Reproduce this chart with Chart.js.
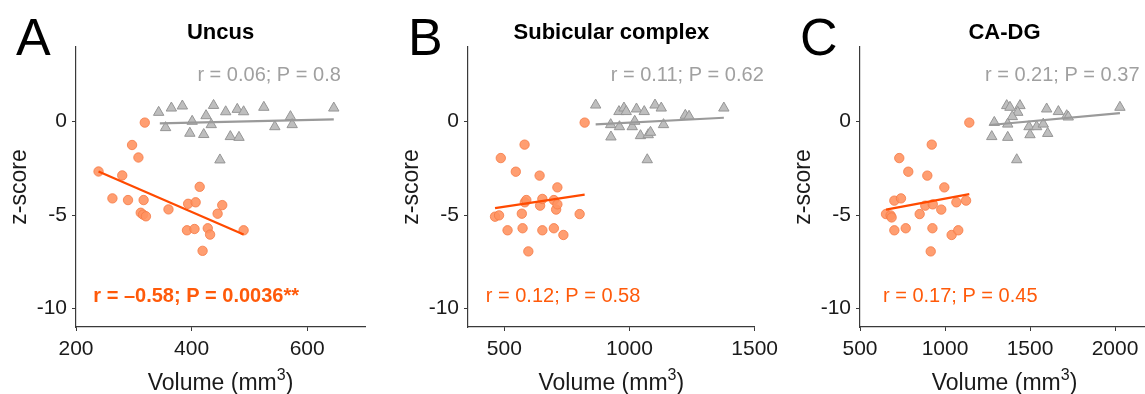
<!DOCTYPE html>
<html>
<head>
<meta charset="utf-8">
<script src="https://cdn.jsdelivr.net/npm/chart.js@4/dist/chart.umd.min.js"></script>
<style>
  html, body { margin: 0; padding: 0; background: #fff; overflow: hidden; }
  body { width: 1145px; height: 394px; position: relative; }
  canvas { position: absolute; top: 0; }
</style>
</head>
<body>
<canvas id="panelA" width="392" height="394" style="left:0px"></canvas>
<canvas id="panelB" width="392" height="394" style="left:392px"></canvas>
<canvas id="panelC" width="392" height="394" style="left:784px"></canvas>
<script>
// --- Uncus ---
const uncusCaseVol = [239, 263, 280, 290, 297, 308, 312, 317, 316, 321, 319, 360, 394, 392, 407, 405, 414, 419, 428, 432, 445, 453, 490];
const uncusCaseZ = [-2.67, -4.11, -2.88, -4.2, -1.25, -1.92, -4.88, -4.2, -4.98, -5.07, -0.05, -4.7, -4.4, -5.82, -4.32, -5.75, -3.49, -6.92, -5.71, -6.05, -4.93, -4.47, -5.82];
const uncusCtrlVol = [343, 355, 365, 384, 397, 401, 421, 425, 434, 438, 449, 459, 467, 479, 482, 490, 525, 544, 571, 574, 646];
const uncusCtrlZ = [0.5, -0.32, 0.73, 0.84, -0.62, 0.02, -0.69, 0.32, -0.16, 0.87, -2.05, 0.53, -0.8, 0.66, -0.84, 0.53, 0.77, -0.27, 0.27, -0.16, 0.73];
const uncusCaseFitVol = [239, 490];
const uncusCaseFitZ = [-2.67, -6.05];
const uncusCtrlFitVol = [345, 646];
const uncusCtrlFitZ = [-0.09, 0.12];

// --- Subicular complex ---
const subicCaseVol = [463, 479, 486, 513, 546, 570, 573, 581, 582, 588, 596, 641, 643, 652, 652, 698, 698, 707, 712, 712, 736, 801, 821];
const subicCaseZ = [-5.09, -5.02, -1.95, -5.82, -2.68, -4.93, -5.71, -1.23, -4.32, -4.2, -6.95, -2.89, -4.5, -4.14, -5.82, -5.71, -4.2, -4.71, -3.52, -4.43, -6.07, -4.95, -0.05];
const subicCtrlVol = [865, 925, 926, 958, 960, 978, 987, 1011, 1021, 1028, 1044, 1059, 1075, 1084, 1071, 1102, 1127, 1136, 1223, 1238, 1377];
const subicCtrlZ = [0.89, -0.16, -0.82, 0.54, -0.27, 0.73, 0.54, -0.27, 0.02, 0.68, -0.75, 0.54, -0.7, -0.57, -2.04, 0.89, 0.73, -0.16, 0.34, 0.29, 0.73];
const subicCaseFitVol = [463, 821];
const subicCaseFitZ = [-4.63, -3.91];
const subicCtrlFitVol = [865, 1377];
const subicCtrlFitZ = [-0.14, 0.21];

// --- CA-DG ---
const cadgCaseVol = [653, 680, 686, 702, 702, 731, 741, 769, 784, 851, 884, 896, 922, 926, 928, 916, 978, 996, 1039, 1067, 1078, 1124, 1143];
const cadgCaseZ = [-4.95, -5.02, -5.13, -4.23, -5.82, -1.95, -4.11, -5.71, -2.68, -4.95, -4.5, -2.89, -1.23, -5.71, -4.43, -6.95, -4.71, -3.52, -6.07, -4.32, -5.82, -4.23, -0.05];
const cadgCtrlVol = [1363, 1382, 1441, 1428, 1396, 1290, 1369, 1275, 1369, 1422, 1494, 1500, 1539, 1578, 1604, 1598, 1667, 1716, 1725, 2029];
const cadgCtrlZ = [0.86, 0.77, 0.86, 0.5, 0.27, -0.04, -0.13, -0.8, -0.84, -2.04, -0.27, -0.7, -0.27, -0.13, -0.63, 0.68, 0.54, 0.32, 0.25, 0.77];
const cadgCaseFitVol = [653, 1143];
const cadgCaseFitZ = [-4.71, -3.88];
const cadgCtrlFitVol = [1265, 2029];
const cadgCtrlFitZ = [-0.18, 0.46];

// axis ticks
const zTicks = [0, -5, -10];
const uncusVolTicks = [200, 400, 600];
const subicVolTicks = [500, 1000, 1500];
const cadgVolTicks = [500, 1000, 1500, 2000];

const FONT = '"Helvetica Neue", Helvetica, Arial, "Liberation Sans", sans-serif';
const ORANGE = '#FF5A0A';
const GRAY_TEXT = '#A0A0A0';
const AXIS = '#3a3a3a';

const toPoints = (xs, ys) => xs.map((x, i) => ({ x: x, y: ys[i] }));

// letters, panel titles, x title with superscript, and the r / P annotations
const panelText = {
  id: 'panelText',
  afterDraw(chart, args, opts) {
    const { ctx, chartArea, scales } = chart;
    const midX = (chartArea.left + chartArea.right) / 2;
    ctx.save();
    ctx.fillStyle = '#000';
    ctx.textAlign = 'left';
    ctx.textBaseline = 'alphabetic';
    ctx.font = '52px ' + FONT;
    ctx.fillText(opts.letter, chartArea.left - 60, 55);
    ctx.font = 'bold 22px ' + FONT;
    ctx.textAlign = 'center';
    ctx.textBaseline = 'middle';
    ctx.fillText(opts.title, midX, 33);

    // "Volume (mm3)" with a raised 3
    ctx.textAlign = 'left';
    ctx.textBaseline = 'alphabetic';
    ctx.fillStyle = '#1a1a1a';
    const main = 'Volume (mm', sup = '3', close = ')';
    ctx.font = '23px ' + FONT;
    const wMain = ctx.measureText(main).width;
    const wClose = ctx.measureText(close).width;
    ctx.font = '16px ' + FONT;
    const wSup = ctx.measureText(sup).width;
    let x = midX - (wMain + wSup + wClose) / 2;
    ctx.font = '23px ' + FONT;
    ctx.fillText(main, x, 390);
    x += wMain;
    ctx.font = '16px ' + FONT;
    ctx.fillText(sup, x, 380);
    x += wSup;
    ctx.font = '23px ' + FONT;
    ctx.fillText(close, x, 390);

    ctx.textBaseline = 'middle';
    for (const s of opts.stats) {
      ctx.font = (s.bold ? 'bold ' : '') + '20px ' + FONT;
      ctx.fillStyle = s.color;
      ctx.fillText(s.text, scales.x.getPixelForValue(s.x), scales.y.getPixelForValue(s.y));
    }
    ctx.restore();
  },
};

function makePanel(id, p) {
  return new Chart(document.getElementById(id), {
    type: 'scatter',
    data: {
      datasets: [
        {
          type: 'line', data: toPoints(p.caseFitVol, p.caseFitZ), order: 0,
          borderColor: '#FF4A00', borderWidth: 2.2, pointRadius: 0, fill: false,
        },
        {
          type: 'line', data: toPoints(p.ctrlFitVol, p.ctrlFitZ), order: 0,
          borderColor: '#9A9A9A', borderWidth: 2.2, pointRadius: 0, fill: false,
        },
        {
          data: toPoints(p.ctrlVol, p.ctrlZ), order: 2,
          pointStyle: 'triangle', pointRadius: 6,
          backgroundColor: '#BEBEBE', borderColor: '#959595', borderWidth: 1,
        },
        {
          data: toPoints(p.caseVol, p.caseZ), order: 1,
          pointStyle: 'circle', pointRadius: 4.7,
          backgroundColor: 'rgba(255,148,98,0.9)', borderColor: '#F57A45', borderWidth: 0.8,
        },
      ],
    },
    options: {
      animation: false,
      responsive: false,
      events: [],
      layout: { padding: { top: 47, left: 0, right: 27, bottom: 0 } },
      plugins: {
        legend: { display: false },
        tooltip: { enabled: false },
        panelText: { letter: p.letter, title: p.title, stats: p.stats },
      },
      scales: {
        x: {
          type: 'linear',
          min: p.xMin,
          max: p.xMax,
          afterBuildTicks: (scale) => { scale.ticks = p.xTicks.map((v) => ({ value: v })); },
          afterFit: (scale) => { scale.height = 67; },
          grid: { drawOnChartArea: false, drawTicks: true, tickLength: 4, color: AXIS },
          border: { display: true, color: AXIS, width: 1.2 },
          ticks: {
            color: '#1a1a1a', padding: 6,
            font: { family: FONT, size: 21 },
            callback: (v) => String(v),
          },
          title: { display: false },
        },
        y: {
          type: 'linear',
          min: -11,
          max: 4,
          afterBuildTicks: (scale) => { scale.ticks = zTicks.map((v) => ({ value: v })); },
          afterFit: (scale) => { scale.width = 76; },
          grid: { drawOnChartArea: false, drawTicks: true, tickLength: 4, color: AXIS },
          border: { display: true, color: AXIS, width: 1.2 },
          ticks: {
            color: '#1a1a1a', padding: 5,
            font: { family: FONT, size: 21 },
            callback: (v) => String(v),
          },
          title: {
            display: true, text: 'z-score', color: '#1a1a1a',
            font: { family: FONT, size: 23, lineHeight: 1 },
            padding: { top: 8.5, bottom: 0 },
          },
        },
      },
    },
    plugins: [panelText],
  });
}

makePanel('panelA', {
  letter: 'A', title: 'Uncus',
  caseVol: uncusCaseVol, caseZ: uncusCaseZ, ctrlVol: uncusCtrlVol, ctrlZ: uncusCtrlZ,
  caseFitVol: uncusCaseFitVol, caseFitZ: uncusCaseFitZ, ctrlFitVol: uncusCtrlFitVol, ctrlFitZ: uncusCtrlFitZ,
  xMin: 200, xMax: 700, xTicks: uncusVolTicks,
  stats: [
    { text: 'r = 0.06; P = 0.8', x: 410, y: 2.45, color: GRAY_TEXT },
    { text: 'r = \u20130.58; P = 0.0036**', x: 230, y: -9.39, color: ORANGE, bold: true },
  ],
});

makePanel('panelB', {
  letter: 'B', title: 'Subicular complex',
  caseVol: subicCaseVol, caseZ: subicCaseZ, ctrlVol: subicCtrlVol, ctrlZ: subicCtrlZ,
  caseFitVol: subicCaseFitVol, caseFitZ: subicCaseFitZ, ctrlFitVol: subicCtrlFitVol, ctrlFitZ: subicCtrlFitZ,
  xMin: 355, xMax: 1500, xTicks: subicVolTicks,
  stats: [
    { text: 'r = 0.11; P = 0.62', x: 925, y: 2.45, color: GRAY_TEXT },
    { text: 'r = 0.12; P = 0.58', x: 426, y: -9.39, color: ORANGE },
  ],
});

makePanel('panelC', {
  letter: 'C', title: 'CA-DG',
  caseVol: cadgCaseVol, caseZ: cadgCaseZ, ctrlVol: cadgCtrlVol, ctrlZ: cadgCtrlZ,
  caseFitVol: cadgCaseFitVol, caseFitZ: cadgCaseFitZ, ctrlFitVol: cadgCtrlFitVol, ctrlFitZ: cadgCtrlFitZ,
  xMin: 500, xMax: 2200, xTicks: cadgVolTicks,
  stats: [
    { text: 'r = 0.21; P = 0.37', x: 1235, y: 2.45, color: GRAY_TEXT },
    { text: 'r = 0.17; P = 0.45', x: 635, y: -9.39, color: ORANGE },
  ],
});
</script>
</body>
</html>
